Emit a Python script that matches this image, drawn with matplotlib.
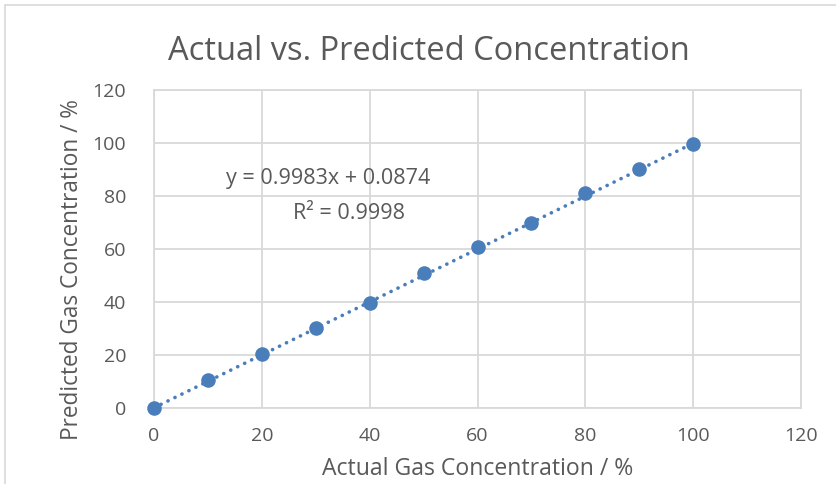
import numpy as np
import matplotlib.pyplot as plt
from matplotlib.patches import Rectangle

# data
actual = [0, 10, 20, 30, 40, 50, 60, 70, 80, 90, 100]
predicted = [0.0, 10.6, 20.3, 30.1, 39.5, 50.8, 60.9, 69.9, 81.0, 90.2, 99.6]
slope = 0.9983
intercept = 0.0874
r_squared = 0.9998

text_col = '#595959'
grid_col = '#d9d9d9'
blue = '#4a7ebb'

plt.rcParams['font.family'] = ['Open Sans', 'DejaVu Sans']

fig = plt.figure(figsize=(8.36, 4.84), dpi=100)
ax = fig.add_axes([0.1842, 0.157, 0.774, 0.657])

# trendline (linear, Excel style round dots)
x_fit = np.array([min(actual), max(actual)])
ax.plot(x_fit, slope * x_fit + intercept, linestyle=(0, (0.05, 2.1)), color=blue,
        linewidth=2.6, dash_capstyle='round', zorder=2)
ax.scatter(actual, predicted, s=110, color=blue, zorder=3, linewidths=0, clip_on=False)

ax.set_xlim(0, 120)
ax.set_ylim(0, 120)
ax.set_xticks(range(0, 121, 20))
ax.set_yticks(range(0, 121, 20))
ax.grid(True, color=grid_col, linewidth=1.3)
ax.set_axisbelow(True)
for s in ax.spines.values():
    s.set_color(grid_col)
    s.set_linewidth(1.3)
ax.tick_params(length=0, labelsize=14, labelcolor=text_col)
ax.tick_params(axis='y', pad=20)
ax.tick_params(axis='x', pad=14)

ax.set_xlabel('Actual Gas Concentration / %', fontsize=16.6, color=text_col, labelpad=8)
ax.set_ylabel('Predicted Gas Concentration / %', fontsize=16.3, color=text_col)
ax.yaxis.set_label_coords(-0.108, 0.434)
fig.text(0.513, 0.893, 'Actual vs. Predicted Concentration', fontsize=23.5,
         color=text_col, ha='center', va='center')

ax.text(32.3, 86.5, f'y = {slope}x + {intercept}', fontsize=15.5, color=text_col,
        ha='center', va='center')
ax.text(36.2, 73.5, f'R² = {r_squared}', fontsize=15.5, color=text_col,
        ha='center', va='center')

# chart area border (only top/left visible in the crop)
fig.patches.append(Rectangle((5 / 836, -0.2), 2, 1.2 - 5 / 484, transform=fig.transFigure,
                             fill=False, edgecolor=grid_col, linewidth=1.2))

fig.savefig('out.png', dpi=100)
